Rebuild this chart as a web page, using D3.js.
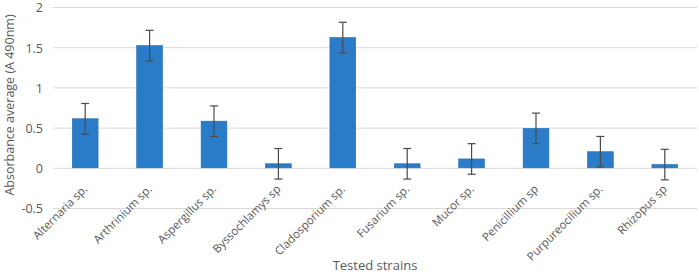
<!DOCTYPE html>
<html>
<head>
<meta charset="utf-8">
<script src="https://cdn.jsdelivr.net/npm/d3@7"></script>
<style>
  body { margin: 0; background: #fff; }
  text { font-family: "Open Sans", sans-serif; fill: #595959; }
</style>
</head>
<body>
<svg id="chart"></svg>
<script>
// strains tested
var strains = ["Alternaria  sp.", "Arthrinium sp.", "Aspergillus sp.", "Byssochlamys sp",
  "Cladosporium sp.", "Fusarium sp.", "Mucor sp.", "Penicillium sp",
  "Purpureocilium sp.", "Rhizopus sp"];
// mean absorbance (A 490nm)
var absorbance = [0.61, 1.52, 0.58, 0.05, 1.62, 0.05, 0.11, 0.49, 0.20, 0.04];
// error bar half length
var errors = [0.19, 0.19, 0.19, 0.19, 0.19, 0.19, 0.19, 0.19, 0.19, 0.19];
var yTicks = [-0.5, 0, 0.5, 1, 1.5, 2];

var width = 699, height = 274;
var margin = { top: 7, right: 2, bottom: 66, left: 53 };

var svg = d3.select("#chart").attr("width", width).attr("height", height);

var data = strains.map(function (s, i) {
  return { name: s, value: absorbance[i], err: errors[i] };
});

var x = d3.scaleBand()
  .domain(strains)
  .range([margin.left, width - margin.right])
  .paddingInner(0.6)
  .paddingOuter(0.3);

var y = d3.scaleLinear()
  .domain([-0.5, 2])
  .range([height - margin.bottom, margin.top]);

// gridlines
svg.append("g")
  .selectAll("line")
  .data(yTicks)
  .join("line")
  .attr("x1", margin.left)
  .attr("x2", width - margin.right)
  .attr("y1", function (d) { return y(d) + 0.5; })
  .attr("y2", function (d) { return y(d) + 0.5; })
  .attr("stroke", "#d9d9d9")
  .attr("stroke-width", 1);

// y tick labels
svg.append("g")
  .selectAll("text")
  .data(yTicks)
  .join("text")
  .attr("x", 43)
  .attr("y", function (d) { return y(d) + 1; })
  .attr("dy", "0.35em")
  .attr("text-anchor", "end")
  .style("font-size", "12.5px")
  .text(function (d) { return d; });

// bars
svg.append("g")
  .selectAll("rect")
  .data(data)
  .join("rect")
  .attr("x", function (d) { return x(d.name); })
  .attr("width", x.bandwidth())
  .attr("y", function (d) { return y(Math.max(0, d.value)); })
  .attr("height", function (d) { return Math.abs(y(d.value) - y(0)); })
  .attr("fill", "#2a7cc8")
  .attr("stroke", "#1f6cb3")
  .attr("stroke-width", 0.6);

// error bars
var eb = svg.append("g").attr("stroke", "#4a4a4a").attr("stroke-width", 1.2);
data.forEach(function (d) {
  var cx = x(d.name) + x.bandwidth() / 2;
  var top = y(d.value + d.err), bot = y(d.value - d.err);
  eb.append("line").attr("x1", cx).attr("x2", cx).attr("y1", top).attr("y2", bot);
  eb.append("line").attr("x1", cx - 4).attr("x2", cx + 4).attr("y1", top).attr("y2", top);
  eb.append("line").attr("x1", cx - 4).attr("x2", cx + 4).attr("y1", bot).attr("y2", bot);
});

// x labels, rotated
svg.append("g")
  .selectAll("text")
  .data(strains)
  .join("text")
  .attr("transform", function (d) {
    return "translate(" + (x(d) + x.bandwidth() / 2 + 3) + "," + (y(0) + 22) + ") rotate(-45)";
  })
  .attr("text-anchor", "end")
  .style("font-size", "11.5px")
  .text(function (d) { return d; });

// axis titles
svg.append("text")
  .attr("transform", "translate(14," + 105 + ") rotate(-90)")
  .attr("text-anchor", "middle")
  .style("font-size", "12.5px")
  .text("Absorbance average (A 490nm)");

svg.append("text")
  .attr("x", 375)
  .attr("y", 270)
  .attr("text-anchor", "middle")
  .style("font-size", "13px")
  .text("Tested strains");
</script>
</body>
</html>
